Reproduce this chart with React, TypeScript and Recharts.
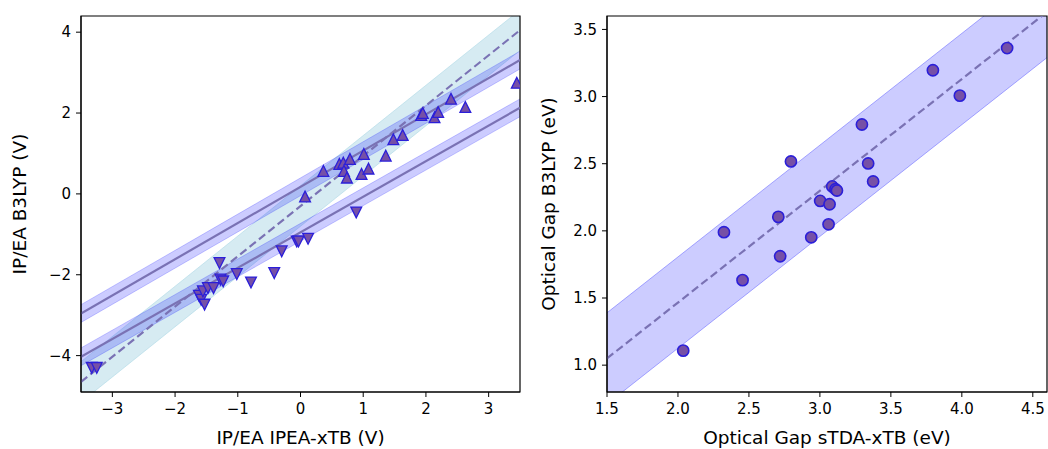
import React from "react";
import { ComposedChart, Scatter, Line, Area, XAxis, YAxis, Label, ReferenceArea } from "recharts";

const FONT = "DejaVu Sans, Verdana, sans-serif";

// left panel: IP (up triangles) and EA (down triangles), IPEA-xTB vs B3LYP
const ipPoints = [
  { x: 0.365, y: 0.568 }, { x: 0.073, y: -0.066 }, { x: 0.619, y: 0.741 },
  { x: 0.682, y: 0.773 }, { x: 0.788, y: 0.864 }, { x: 0.693, y: 0.568 },
  { x: 0.74, y: 0.403 }, { x: 1.01, y: 0.988 }, { x: 0.973, y: 0.494 },
  { x: 1.084, y: 0.625 }, { x: 1.359, y: 0.946 }, { x: 1.481, y: 1.35 },
  { x: 1.629, y: 1.457 }, { x: 1.925, y: 1.95 }, { x: 1.95, y: 2.0 },
  { x: 2.137, y: 1.894 }, { x: 2.195, y: 2.025 }, { x: 2.4, y: 2.353 },
  { x: 2.629, y: 2.148 }, { x: 3.449, y: 2.748 },
];
const eaPoints = [
  { x: -3.329, y: -4.304 }, { x: -3.249, y: -4.304 }, { x: -1.292, y: -1.711 },
  { x: -1.619, y: -2.519 }, { x: -1.583, y: -2.617 }, { x: -1.53, y: -2.74 },
  { x: -1.556, y: -2.41 }, { x: -1.476, y: -2.33 }, { x: -1.387, y: -2.33 },
  { x: -1.276, y: -2.12 }, { x: -1.233, y: -2.165 }, { x: -1.016, y: -1.984 },
  { x: -0.789, y: -2.19 }, { x: -0.419, y: -1.958 }, { x: -0.3, y: -1.42 },
  { x: -0.059, y: -1.178 }, { x: -0.032, y: -1.178 }, { x: 0.121, y: -1.11 },
  { x: 0.889, y: -0.46 },
];

// fit lines and bands, read at the edges of the x range
const leftEdgeX = [-3.5, 3.5];
const leftDash = [-4.65, 4.05];
const leftDashLow = [-5.15, 3.55];
const leftDashHigh = [-4.15, 4.55];
const ipFit = [-2.96, 3.31];
const ipFitLow = [-3.18, 3.09];
const ipFitHigh = [-2.74, 3.53];
const eaFit = [-4.03, 2.13];
const eaFitLow = [-4.25, 1.91];
const eaFitHigh = [-3.81, 2.35];
const leftXTicks = [-3, -2, -1, 0, 1, 2, 3];
const leftYTicks = [-4, -2, 0, 2, 4];

// right panel: optical gap sTDA-xTB vs B3LYP
const gapPoints = [
  { x: 2.037, y: 1.108 }, { x: 2.324, y: 1.99 }, { x: 2.455, y: 1.633 },
  { x: 2.707, y: 2.104 }, { x: 2.72, y: 1.811 }, { x: 2.796, y: 2.517 },
  { x: 2.939, y: 1.952 }, { x: 3.002, y: 2.223 }, { x: 3.061, y: 2.049 },
  { x: 3.068, y: 2.198 }, { x: 3.087, y: 2.331 }, { x: 3.11, y: 2.31 },
  { x: 3.12, y: 2.3 }, { x: 3.296, y: 2.792 }, { x: 3.34, y: 2.502 },
  { x: 3.375, y: 2.368 }, { x: 3.796, y: 3.196 }, { x: 3.986, y: 3.007 },
  { x: 4.319, y: 3.361 },
];
const rightEdgeX = [1.5, 4.6];
const gapDash = [1.05, 3.63];
const gapLow = [0.71, 3.29];
const gapHigh = [1.39, 3.97];
const rightXTicks = [1.5, 2.0, 2.5, 3.0, 3.5, 4.0, 4.5];
const rightYTicks = [1.0, 1.5, 2.0, 2.5, 3.0, 3.5];

const leftRows = leftEdgeX.map((x, i) => ({
  x,
  dash: leftDash[i],
  dashBand: [leftDashLow[i], leftDashHigh[i]],
  ip: ipFit[i],
  ipBand: [ipFitLow[i], ipFitHigh[i]],
  ea: eaFit[i],
  eaBand: [eaFitLow[i], eaFitHigh[i]],
}));

const rightRows = rightEdgeX.map((x, i) => ({
  x,
  dash: gapDash[i],
  band: [gapLow[i], gapHigh[i]],
}));

const MARK_FILL = "#7650a6";
const MARK_EDGE = "#2b1fd9";
const FIT_LINE = "#7a72b4";

const TriUp = (p: any) => {
  const s = 5.4;
  return (
    <polygon
      points={`${p.cx},${p.cy - s} ${p.cx - s},${p.cy + s} ${p.cx + s},${p.cy + s}`}
      fill={MARK_FILL}
      stroke={MARK_EDGE}
      strokeWidth={1.3}
    />
  );
};

const TriDown = (p: any) => {
  const s = 5.4;
  return (
    <polygon
      points={`${p.cx},${p.cy + s} ${p.cx - s},${p.cy - s} ${p.cx + s},${p.cy - s}`}
      fill={MARK_FILL}
      stroke={MARK_EDGE}
      strokeWidth={1.3}
    />
  );
};

const Dot = (p: any) => (
  <circle cx={p.cx} cy={p.cy} r={5.6} fill={MARK_FILL} stroke={MARK_EDGE} strokeWidth={1.6} />
);

const tickStyle = { fill: "#000", fontSize: 15, fontFamily: FONT };
const labelStyle = { fill: "#000", fontSize: 18.5, fontFamily: FONT, textAnchor: "middle" as const };
const minus = (v: number) => String(v).replace("-", "\u2212");

function LeftPanel() {
  return (
    <ComposedChart
      width={540}
      height={449}
      data={leftRows}
      margin={{ top: 16, right: 20, bottom: 0, left: 0 }}
    >
      <XAxis
        dataKey="x"
        type="number"
        domain={[-3.5, 3.5]}
        ticks={leftXTicks}
        tickFormatter={minus}
        allowDataOverflow
        height={57}
        tickSize={5}
        tickMargin={6}
        tick={tickStyle}
        stroke="#000"
      >
        <Label value="IP/EA IPEA-xTB (V)" position="insideBottom" offset={5} style={labelStyle} />
      </XAxis>
      <YAxis
        type="number"
        domain={[-4.9, 4.4]}
        ticks={leftYTicks}
        tickFormatter={minus}
        allowDataOverflow
        width={81}
        tickSize={5}
        tickMargin={5}
        tick={tickStyle}
        stroke="#000"
      >
        <Label value="IP/EA B3LYP (V)" angle={-90} position="insideLeft" offset={19} style={labelStyle} />
      </YAxis>
      <Area
        dataKey="dashBand"
        type="linear"
        fill="#add8e6"
        fillOpacity={0.5}
        stroke="#add8e6"
        strokeOpacity={0.6}
        dot={false}
        activeDot={false}
        isAnimationActive={false}
      />
      <Area
        dataKey="ipBand"
        type="linear"
        fill="#0000ff"
        fillOpacity={0.2}
        stroke="#0000ff"
        strokeOpacity={0.2}
        dot={false}
        activeDot={false}
        isAnimationActive={false}
      />
      <Area
        dataKey="eaBand"
        type="linear"
        fill="#0000ff"
        fillOpacity={0.2}
        stroke="#0000ff"
        strokeOpacity={0.2}
        dot={false}
        activeDot={false}
        isAnimationActive={false}
      />
      <Line dataKey="ip" type="linear" stroke={FIT_LINE} strokeWidth={2.2} dot={false} activeDot={false} isAnimationActive={false} />
      <Line dataKey="ea" type="linear" stroke={FIT_LINE} strokeWidth={2.2} dot={false} activeDot={false} isAnimationActive={false} />
      <Line
        dataKey="dash"
        type="linear"
        stroke={FIT_LINE}
        strokeWidth={2.2}
        strokeDasharray="8 4"
        dot={false}
        activeDot={false}
        isAnimationActive={false}
      />
      <Scatter data={ipPoints} dataKey="y" shape={TriUp} isAnimationActive={false} />
      <Scatter data={eaPoints} dataKey="y" shape={TriDown} isAnimationActive={false} />
      <ReferenceArea x1={-3.5} x2={3.5} y1={-4.9} y2={4.4} fill="none" stroke="#000" strokeWidth={1.2} ifOverflow="visible" />
    </ComposedChart>
  );
}

function RightPanel() {
  return (
    <ComposedChart
      width={521}
      height={449}
      data={rightRows}
      margin={{ top: 16, right: 1, bottom: 0, left: 0 }}
    >
      <XAxis
        dataKey="x"
        type="number"
        domain={[1.5, 4.6]}
        ticks={rightXTicks}
        tickFormatter={(v: number) => v.toFixed(1)}
        allowDataOverflow
        height={57}
        tickSize={5}
        tickMargin={6}
        tick={tickStyle}
        stroke="#000"
      >
        <Label value="Optical Gap sTDA-xTB (eV)" position="insideBottom" offset={5} style={labelStyle} />
      </XAxis>
      <YAxis
        type="number"
        domain={[0.8, 3.6]}
        ticks={rightYTicks}
        tickFormatter={(v: number) => v.toFixed(1)}
        allowDataOverflow
        width={80}
        tickSize={5}
        tickMargin={5}
        tick={tickStyle}
        stroke="#000"
      >
        <Label value="Optical Gap B3LYP (eV)" angle={-90} position="insideLeft" offset={21} style={labelStyle} />
      </YAxis>
      <Area
        dataKey="band"
        type="linear"
        fill="#0000ff"
        fillOpacity={0.2}
        stroke="#0000ff"
        strokeOpacity={0.3}
        dot={false}
        activeDot={false}
        isAnimationActive={false}
      />
      <Line
        dataKey="dash"
        type="linear"
        stroke={FIT_LINE}
        strokeWidth={2.2}
        strokeDasharray="8 4"
        dot={false}
        activeDot={false}
        isAnimationActive={false}
      />
      <Scatter data={gapPoints} dataKey="y" shape={Dot} isAnimationActive={false} />
      <ReferenceArea x1={1.5} x2={4.6} y1={0.8} y2={3.6} fill="none" stroke="#000" strokeWidth={1.2} ifOverflow="visible" />
    </ComposedChart>
  );
}

export default function App() {
  return (
    <div style={{ position: "absolute", left: 0, top: 0, width: 1048, height: 449, background: "#fff" }}>
      <div style={{ position: "absolute", left: 0, top: 0 }}>
        <LeftPanel />
      </div>
      <div style={{ position: "absolute", left: 527, top: 0 }}>
        <RightPanel />
      </div>
    </div>
  );
}
